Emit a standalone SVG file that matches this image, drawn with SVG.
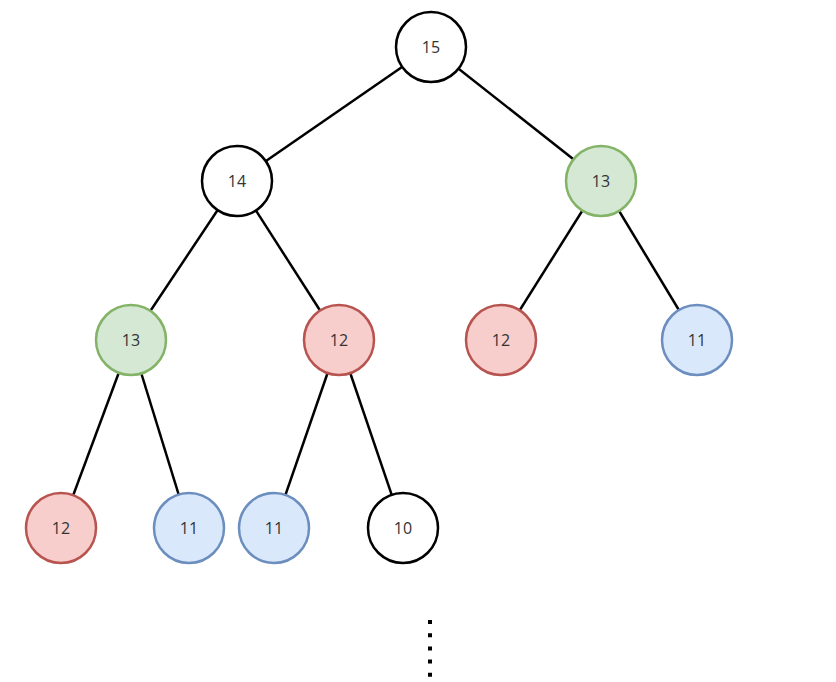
<svg xmlns="http://www.w3.org/2000/svg" width="836" height="682" viewBox="0 0 836 682">
<style>
.n circle{stroke-width:2.5}
.w{fill:#ffffff;stroke:#000000}
.g{fill:#d5e8d4;stroke:#82b366}
.r{fill:#f8cecc;stroke:#b85450}
.b{fill:#dae8fc;stroke:#6c8ebf}
.n text{font-family:"Open Sans","Noto Sans","Liberation Sans",sans-serif;font-size:16px;fill:#333333;text-anchor:middle;dominant-baseline:central}
.e line{stroke:#000000;stroke-width:2.5}
</style>
<rect width="836" height="682" fill="#ffffff"/>
<g id="connectors" class="e">
<line x1="431" y1="47" x2="237" y2="181"/>
<line x1="431" y1="47" x2="601" y2="181"/>
<line x1="237" y1="181" x2="131" y2="340"/>
<line x1="237" y1="181" x2="339" y2="340"/>
<line x1="601" y1="181" x2="501" y2="340"/>
<line x1="601" y1="181" x2="697" y2="340"/>
<line x1="131" y1="340" x2="61" y2="528"/>
<line x1="131" y1="340" x2="189" y2="528"/>
<line x1="339" y1="340" x2="274" y2="528"/>
<line x1="339" y1="340" x2="403" y2="528"/>
</g>
<g id="n15" class="n"><circle class="w" cx="431" cy="47" r="35"/><text x="431" y="47">15</text></g>
<g id="n14" class="n"><circle class="w" cx="237" cy="181" r="35"/><text x="237" y="181">14</text></g>
<g id="n13a" class="n"><circle class="g" cx="601" cy="181" r="35"/><text x="601" y="181">13</text></g>
<g id="n13b" class="n"><circle class="g" cx="131" cy="340" r="35"/><text x="131" y="340">13</text></g>
<g id="n12a" class="n"><circle class="r" cx="339" cy="340" r="35"/><text x="339" y="340">12</text></g>
<g id="n12b" class="n"><circle class="r" cx="501" cy="340" r="35"/><text x="501" y="340">12</text></g>
<g id="n11a" class="n"><circle class="b" cx="697" cy="340" r="35"/><text x="697" y="340">11</text></g>
<g id="n12c" class="n"><circle class="r" cx="61" cy="528" r="35"/><text x="61" y="528">12</text></g>
<g id="n11b" class="n"><circle class="b" cx="189" cy="528" r="35"/><text x="189" y="528">11</text></g>
<g id="n11c" class="n"><circle class="b" cx="274" cy="528" r="35"/><text x="274" y="528">11</text></g>
<g id="n10" class="n"><circle class="w" cx="403" cy="528" r="35"/><text x="403" y="528">10</text></g>
<line x1="430" y1="620" x2="430" y2="678" stroke="#000000" stroke-width="4" stroke-dasharray="4 9.2"/>
</svg>
